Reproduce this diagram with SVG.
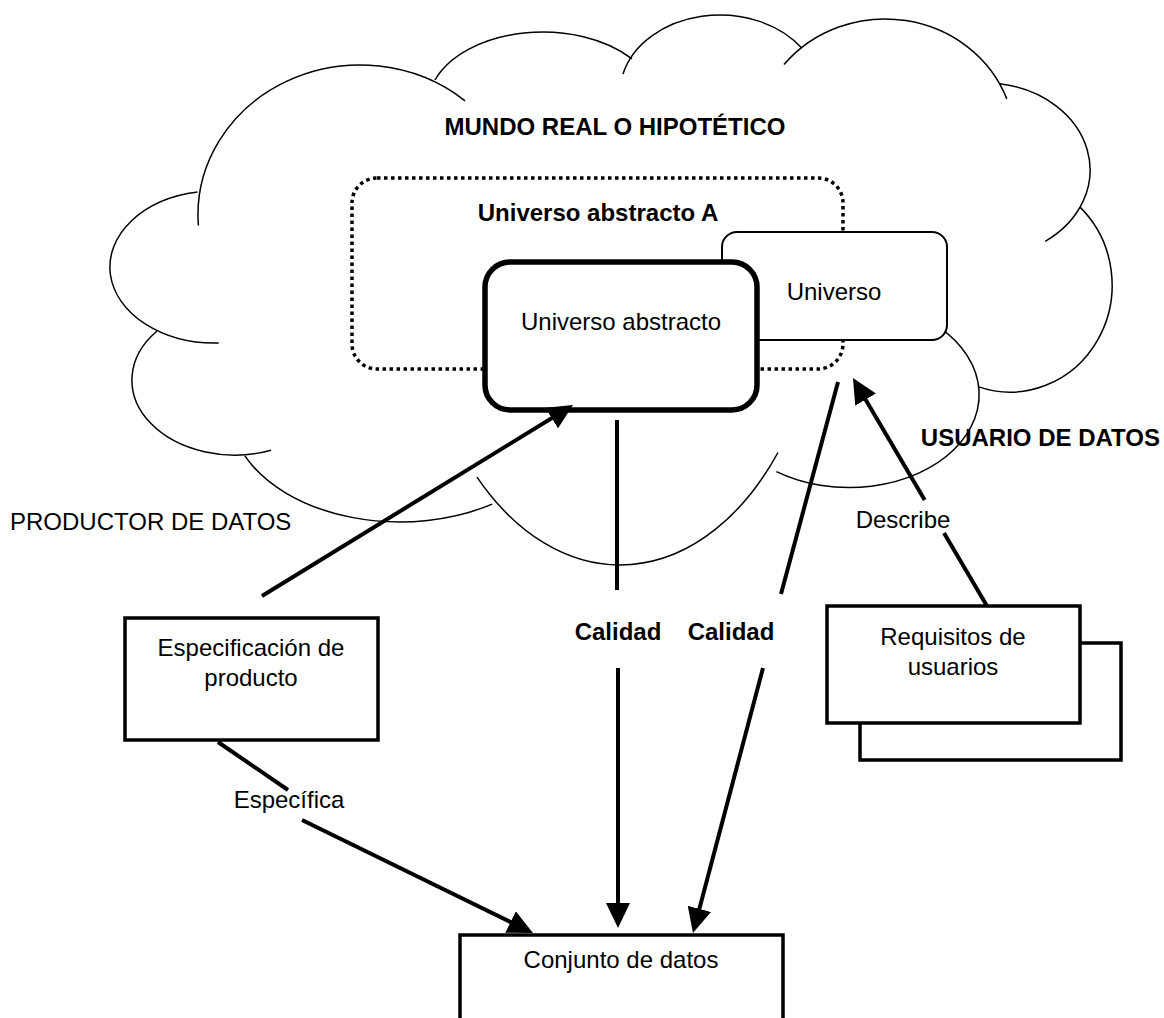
<svg xmlns="http://www.w3.org/2000/svg" width="1164" height="1018" viewBox="0 0 1164 1018">
<style>
text{font-family:"Liberation Sans",Arial,sans-serif;font-size:24px;fill:#000}
.b{font-weight:bold}
.cloud{fill:none;stroke:#000;stroke-width:1.5}
.box{fill:#fff;stroke:#000;stroke-width:3.5}
.conn{stroke:#000;stroke-width:4;fill:none}
</style>
<defs>
<marker id="ah" viewBox="0 0 25 24" markerUnits="userSpaceOnUse" markerWidth="25" markerHeight="24" refX="19" refY="12" orient="auto">
<path d="M0,0 L25,12 L0,24 z" fill="#000"/>
</marker>
</defs>
<rect x="0" y="0" width="1164" height="1018" fill="#fff"/>
<g id="cloud">
<path class="cloud" d="M198.4,225.5 A162,150 0 0 1 465,100.8"/>
<path class="cloud" d="M435,80 A115,73 0 0 1 632,58.8"/>
<path class="cloud" d="M623,74.1 A100,78 0 0 1 801.9,48.3"/>
<path class="cloud" d="M784,64.6 A130,123 0 0 1 1006.8,98.9"/>
<path class="cloud" d="M999.6,83.8 A105,87 0 0 1 1045.2,241.3"/>
<path class="cloud" d="M1080,207.1 A102,107 0 0 1 978,386.6"/>
<path class="cloud" d="M930,321.7 A130,93 0 0 1 776.4,471.6"/>
<path class="cloud" d="M778,452.5 A205,310 0 0 1 477,477.1"/>
<path class="cloud" d="M492.1,504.1 A170,112 0 0 1 244.9,455.9"/>
<path class="cloud" d="M156.8,331.2 A103,75 0 0 0 271.1,450.3"/>
<path class="cloud" d="M197.5,192.1 A105,76 0 0 0 218.7,343"/>
<text class="b" x="615" y="135" text-anchor="middle">MUNDO REAL O HIPOTÉTICO</text>
</g>
<g id="universo-abstracto-a">
<rect x="352" y="178" width="491" height="191" rx="25" ry="25" fill="none" stroke="#000" stroke-width="3.5" stroke-dasharray="3.5 3.5"/>
<text class="b" x="598" y="221" text-anchor="middle">Universo abstracto A</text>
</g>
<g id="universo">
<rect x="722" y="232" width="225" height="108" rx="15" ry="15" fill="#fff" stroke="#000" stroke-width="2"/>
<text x="834" y="300" text-anchor="middle">Universo</text>
</g>
<g id="universo-abstracto">
<rect x="485" y="262" width="272" height="148" rx="25" ry="25" fill="#fff" stroke="#000" stroke-width="5.5"/>
<text x="621" y="330" text-anchor="middle">Universo abstracto</text>
</g>
<g id="usuario-label">
<text class="b" x="1160" y="446" text-anchor="end">USUARIO DE DATOS</text>
</g>
<g id="productor-label">
<text x="10" y="530">PRODUCTOR DE DATOS</text>
</g>
<g id="especificacion">
<rect class="box" x="125" y="618" width="253" height="122"/>
<text x="251" y="656" text-anchor="middle">Especificación de</text>
<text x="251" y="686" text-anchor="middle">producto</text>
</g>
<g id="requisitos">
<rect class="box" x="860" y="643" width="261" height="117"/>
<rect class="box" x="827" y="606" width="253" height="117"/>
<text x="953" y="645" text-anchor="middle">Requisitos de</text>
<text x="953" y="675" text-anchor="middle">usuarios</text>
</g>
<g id="conjunto">
<rect class="box" x="460" y="935" width="323" height="120"/>
<text x="621" y="968" text-anchor="middle">Conjunto de datos</text>
</g>
<g id="connectors">
<line class="conn" x1="262" y1="596" x2="567.9" y2="408.2" marker-end="url(#ah)"/>
<line class="conn" x1="218" y1="742" x2="288" y2="790"/>
<text x="289" y="808" text-anchor="middle">Específica</text>
<line class="conn" x1="302" y1="820" x2="527.6" y2="930.4" marker-end="url(#ah)"/>
<line class="conn" x1="617" y1="420" x2="617" y2="590"/>
<text class="b" x="618" y="640" text-anchor="middle">Calidad</text>
<line class="conn" x1="618" y1="668" x2="618" y2="922" marker-end="url(#ah)"/>
<line class="conn" x1="838" y1="382" x2="781" y2="594"/>
<text class="b" x="731" y="640" text-anchor="middle">Calidad</text>
<line class="conn" x1="763" y1="668" x2="694.5" y2="927.2" marker-end="url(#ah)"/>
<line class="conn" x1="987" y1="606" x2="944" y2="533"/>
<text x="903" y="528" text-anchor="middle">Describe</text>
<line class="conn" x1="924.7" y1="500" x2="856" y2="383.2" marker-end="url(#ah)"/>
</g>
</svg>
